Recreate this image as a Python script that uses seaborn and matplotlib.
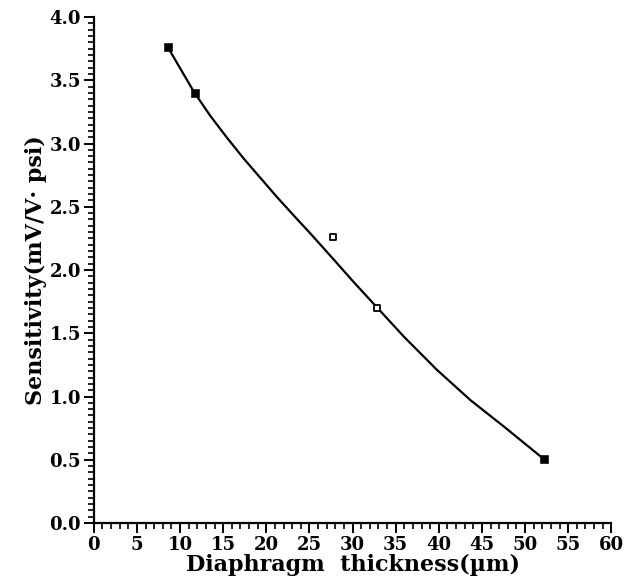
import matplotlib
matplotlib.use("Agg")
import matplotlib.pyplot as plt
import seaborn as sns
import pandas as pd
from matplotlib.ticker import MultipleLocator

# measured points
thickness = [8.6, 11.7, 27.7, 32.8, 52.2]
sensitivity = [3.76, 3.40, 2.26, 1.70, 0.51]
filled = [True, True, False, False, True]

# fitted curve
curve_x = [8.6, 11.6, 13.5, 15.4, 17.4, 19.3, 21.2, 23.2, 25.1, 27.6, 30.2,
           32.9, 36.0, 39.8, 43.7, 47.6, 52.1]
curve_y = [3.76, 3.41, 3.22, 3.05, 2.88, 2.73, 2.58, 2.43, 2.29, 2.10, 1.90,
           1.70, 1.47, 1.21, 0.97, 0.76, 0.51]

x_ticks = [0, 5, 10, 15, 20, 25, 30, 35, 40, 45, 50, 55, 60]
y_ticks = [0.0, 0.5, 1.0, 1.5, 2.0, 2.5, 3.0, 3.5, 4.0]

sns.set_theme(style="ticks")
plt.rcParams["font.family"] = ["DejaVu Serif"]
for k in ["text.color", "axes.labelcolor", "xtick.color", "ytick.color",
          "axes.edgecolor"]:
    plt.rcParams[k] = "black"

fig = plt.figure(figsize=(6.25, 5.87), dpi=100)
ax = fig.add_axes([0.150, 0.109, 0.828, 0.862])

curve = pd.DataFrame({"x": curve_x, "y": curve_y})
sns.lineplot(data=curve, x="x", y="y", ax=ax, color="black", linewidth=1.6,
             estimator=None, sort=False)

pts = pd.DataFrame({"x": thickness, "y": sensitivity, "filled": filled})
fp = pts[pts["filled"]]
op = pts[~pts["filled"]]
sns.scatterplot(data=fp, x="x", y="y", ax=ax, marker="s", s=30,
                color="black", edgecolor="black", zorder=3)
sns.scatterplot(data=op, x="x", y="y", ax=ax, marker="s", s=22,
                facecolor="white", edgecolor="black", linewidth=1.3, zorder=3)

ax.set_xlim(0, 60)
ax.set_ylim(0, 4.0)
ax.set_xticks(x_ticks)
ax.set_yticks(y_ticks)
ax.set_xticklabels([str(v) for v in x_ticks])
ax.set_yticklabels([f"{v:.1f}" for v in y_ticks])
ax.xaxis.set_minor_locator(MultipleLocator(1))
ax.yaxis.set_minor_locator(MultipleLocator(0.05))

for s in ["top", "right"]:
    ax.spines[s].set_visible(False)
for s in ["left", "bottom"]:
    ax.spines[s].set_linewidth(1.6)
    ax.spines[s].set_color("black")

ax.tick_params(axis="both", which="major", direction="out", length=7, width=1.4,
               colors="black", labelsize=13, pad=2)
ax.tick_params(axis="both", which="minor", direction="out", length=4, width=1.2,
               colors="black")
for lab in ax.get_xticklabels() + ax.get_yticklabels():
    lab.set_fontweight("bold")

ax.set_xlabel("Diaphragm  thickness(\u00b5m)", fontsize=16, fontweight="bold",
              labelpad=0, color="black")
ax.set_ylabel("Sensitivity(mV/V\u00b7 psi)", fontsize=16, fontweight="bold",
              labelpad=2, color="black")
ax.grid(False)

fig.savefig("out.png", dpi=100)
